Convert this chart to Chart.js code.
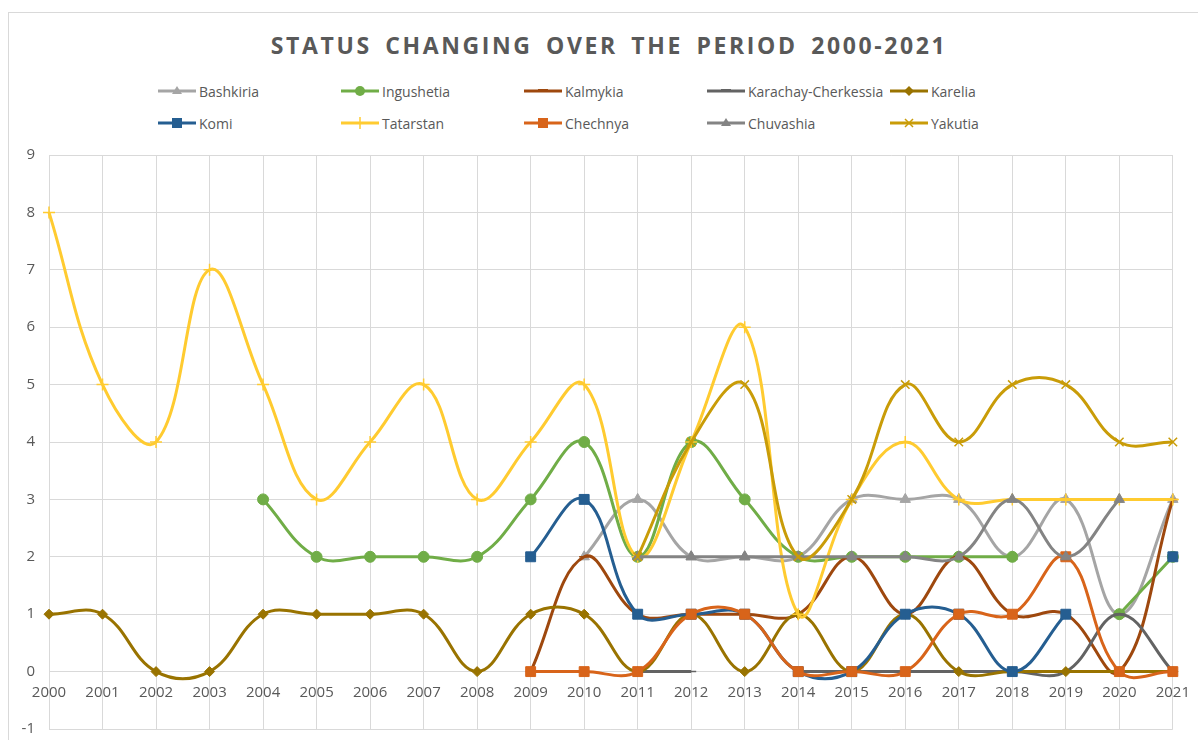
<!DOCTYPE html>
<html>
<head>
<meta charset="utf-8">
<script src="https://cdn.jsdelivr.net/npm/chart.js@4/dist/chart.umd.min.js"></script>
<style>
  html, body { margin: 0; padding: 0; background: #fff; }
  #wrap { position: relative; width: 1198px; height: 740px; overflow: hidden; }
  #frame { position: absolute; left: 8px; top: 12px; width: 1300px; height: 800px; border: 1px solid #d9d9d9; box-sizing: border-box; }
  #title { position: absolute; left: 0; width: 1218px; top: 29px; text-align: center; font: bold 23px "Open Sans", sans-serif; letter-spacing: 2.6px; word-spacing: 5px; color: #595959; }
  #legend { position: absolute; left: 158px; top: 80px; width: 920px; }
  .item { position: absolute; height: 22px; font: 14px "Open Sans", sans-serif; color: #595959; white-space: nowrap; display: flex; align-items: center; }
  .item svg { margin-right: 3px; }
  canvas { position: absolute; left: 0; top: 0; }
</style>
</head>
<body>
<div id="wrap">
  <div id="frame"></div>
  <div id="title">STATUS CHANGING OVER THE PERIOD 2000-2021</div>
  <div id="legend"></div>
  <canvas id="status-chart" width="1202" height="752"></canvas>
</div>
<script>
    const years = ['2000','2001','2002','2003','2004','2005','2006','2007','2008','2009','2010',
                   '2011','2012','2013','2014','2015','2016','2017','2018','2019','2020','2021'];

    const regions = ['Bashkiria','Ingushetia','Kalmykia','Karachay-Cherkessia','Karelia',
                     'Komi','Tatarstan','Chechnya','Chuvashia','Yakutia'];

    //            2000 ...                                              2010                                      2021
    const bashkiria  = [null,null,null,null,null,null,null,null,null,null,2,3,2,2,2,3,3,3,2,3,1,3];
    const ingushetia = [null,null,null,null,3,2,2,2,2,3,4,2,4,3,2,2,2,2,2,null,1,2];
    const kalmykia   = [null,null,null,null,null,null,null,null,null,0,2,1,1,1,1,2,1,2,1,1,0,3];
    const karachay   = [null,null,null,null,null,null,null,null,null,null,null,0,0,null,0,0,0,0,0,0,1,0];
    const karelia    = [1,1,0,0,1,1,1,1,0,1,1,0,1,0,1,0,1,0,0,0,0,0];
    const komi       = [null,null,null,null,null,null,null,null,null,2,3,1,1,1,0,0,1,1,0,1,null,2];
    const tatarstan  = [8,5,4,7,5,3,4,5,3,4,5,2,4,6,1,3,4,3,3,3,3,3];
    const chechnya   = [null,null,null,null,null,null,null,null,null,0,0,0,1,1,0,0,0,1,1,2,0,0];
    const chuvashia  = [null,null,null,null,null,null,null,null,null,null,null,2,2,2,2,2,2,2,3,2,3,null];
    const yakutia    = [null,null,null,null,null,null,null,null,null,null,null,2,4,5,2,3,5,4,5,5,4,4];

    const yTicks = [-1,0,1,2,3,4,5,6,7,8,9];

    const series = [bashkiria, ingushetia, kalmykia, karachay, karelia,
                    komi, tatarstan, chechnya, chuvashia, yakutia];

    const colors  = ['#a5a5a5','#70ad47','#9e480e','#636363','#997300',
                     '#255e91','#ffcb30','#d8641a','#848484','#c99c08'];
    const markers = ['triangle','circle','line','line','rectRot',
                     'rect','cross','rect','triangle','crossRot'];
    const sizes   = [6,5.5,5,5,5,7,6,7,6,6];

    const datasets = series.map((values, i) => ({
        label: regions[i],
        data: values,
        borderColor: colors[i],
        backgroundColor: colors[i],
        borderWidth: 3,
        pointStyle: markers[i],
        pointRadius: sizes[i],
        pointHoverRadius: sizes[i],
        pointBorderWidth: (markers[i] == 'cross' || markers[i] == 'crossRot' || markers[i] == 'line') ? 1.5 : 1,
        tension: 0.4,
        spanGaps: false,
        order: series.length - i
    }));

    const chart = new Chart(document.getElementById('status-chart'), {
        type: 'line',
        data: { labels: years, datasets: datasets },
        options: {
            responsive: false,
            animation: false,
            events: [],
            layout: { padding: { top: 155, right: 18, bottom: 0, left: 0 } },
            plugins: { legend: { display: false }, title: { display: false }, tooltip: { enabled: false } },
            scales: {
                x: {
                    position: { y: 0 },
                    offset: false,
                    grid: { color: '#d9d9d9', drawTicks: false, lineWidth: 1 },
                    border: { color: '#d9d9d9' },
                    ticks: { color: '#595959', font: { family: 'Open Sans', size: 15 }, padding: 12, maxRotation: 0, autoSkip: false }
                },
                y: {
                    min: yTicks[0],
                    max: yTicks[yTicks.length - 1],
                    afterFit: (scale) => { scale.width = 49; },
                    grid: { color: '#d9d9d9', drawTicks: false },
                    border: { display: false },
                    ticks: { stepSize: 1, color: '#595959', font: { family: 'Open Sans', size: 15 }, padding: 14 }
                }
            }
        }
    });

    // legend built from the datasets, 5 equal columns like the original
    const legend = document.getElementById('legend');
    datasets.forEach((ds, i) => {
        const col = i % 5, row = Math.floor(i / 5);
        const c = ds.borderColor;
        let mark = '';
        if (ds.pointStyle == 'triangle') mark = `<polygon points="19,6 24,14 14,14" fill="${c}"/>`;
        else if (ds.pointStyle == 'circle') mark = `<circle cx="19" cy="11" r="5" fill="${c}"/>`;
        else if (ds.pointStyle == 'line') mark = `<line x1="14" y1="10" x2="24" y2="10" stroke="${c}" stroke-width="2"/>`;
        else if (ds.pointStyle == 'rectRot') mark = `<polygon points="19,6 24,11 19,16 14,11" fill="${c}"/>`;
        else if (ds.pointStyle == 'rect') mark = `<rect x="14" y="6" width="10" height="10" fill="${c}"/>`;
        else if (ds.pointStyle == 'cross') mark = `<line x1="19" y1="5" x2="19" y2="17" stroke="${c}" stroke-width="1.5"/>`;
        else if (ds.pointStyle == 'crossRot') mark = `<path d="M15 7 L23 15 M23 7 L15 15" stroke="${c}" stroke-width="1.5"/>`;
        const el = document.createElement('div');
        el.className = 'item';
        el.style.left = (col * 183) + 'px';
        el.style.top = (row * 32) + 'px';
        el.innerHTML = `<svg width="38" height="22"><line x1="0" y1="11" x2="38" y2="11" stroke="${c}" stroke-width="3"/>${mark}</svg>${ds.label}`;
        legend.appendChild(el);
    });
</script>
</body>
</html>
